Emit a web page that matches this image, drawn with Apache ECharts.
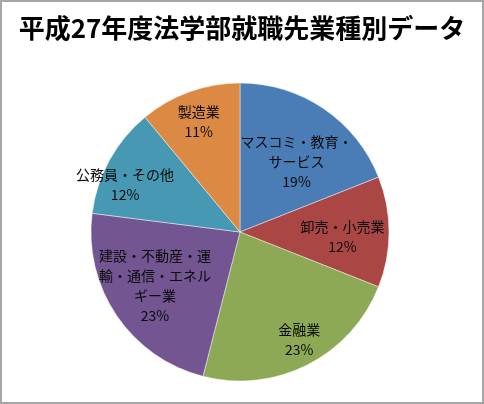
<!DOCTYPE html>
<html>
<head>
<meta charset="utf-8">
<script src="https://cdn.jsdelivr.net/npm/echarts@6/dist/echarts.min.js"></script>
<style>
html,body{margin:0;padding:0;background:#fff;}
#main{width:484px;height:404px;}
</style>
</head>
<body>
<div id="main"></div>
<script>
const titleText = '平成27年度法学部就職先業種別データ';
const categories = ['マスコミ・教育・サービス', '卸売・小売業', '金融業', '建設・不動産・運輸・通信・エネルギー業', '公務員・その他', '製造業'];
const values = [19, 12, 23, 23, 12, 11];
const colors = ['#4A7DB5', '#AA4644', '#8DA955', '#735592', '#4799B3', '#DC8944'];
// label nudges (style) relative to default inside position
const labelNudge = [[13, -6], [25, 5], [24, 39], [-21, 10], [-47, -10], [-15, -37]];

const chart = echarts.init(document.getElementById('main'), null, {renderer: 'canvas'});
chart.setOption({
  animation: false,
  backgroundColor: '#fff',
  title: {
    text: titleText,
    left: 'center',
    top: 10,
    textStyle: {fontFamily: 'Noto Sans CJK JP', fontWeight: 'bold', fontSize: 26, color: '#000'}
  },
  graphic: [{
    type: 'rect',
    shape: {x: 1, y: 1, width: 482, height: 402},
    style: {fill: 'none', stroke: '#a6a6a6', lineWidth: 2},
    silent: true
  }],
  series: [{
    type: 'pie',
    center: [240, 232],
    radius: [0, 149],
    startAngle: 90,
    clockwise: true,
    data: categories.map((c, i) => ({name: c, value: values[i], itemStyle: {color: colors[i]}})),
    itemStyle: {borderColor: 'rgba(255,255,255,0.55)', borderWidth: 0.8},
    label: {
      show: true,
      position: 'inside',
      formatter: p => p.name + '\n' + Math.round(p.percent) + '%',
      fontFamily: 'Noto Sans CJK JP',
      fontSize: 14,
      lineHeight: 20,
      color: '#0a0a0a',
      width: 115,
      overflow: 'break',
      align: 'center'
    },
    labelLayout: p => ({dx: labelNudge[p.dataIndex][0], dy: labelNudge[p.dataIndex][1]}),
    emphasis: {disabled: true}
  }]
});
</script>
</body>
</html>
